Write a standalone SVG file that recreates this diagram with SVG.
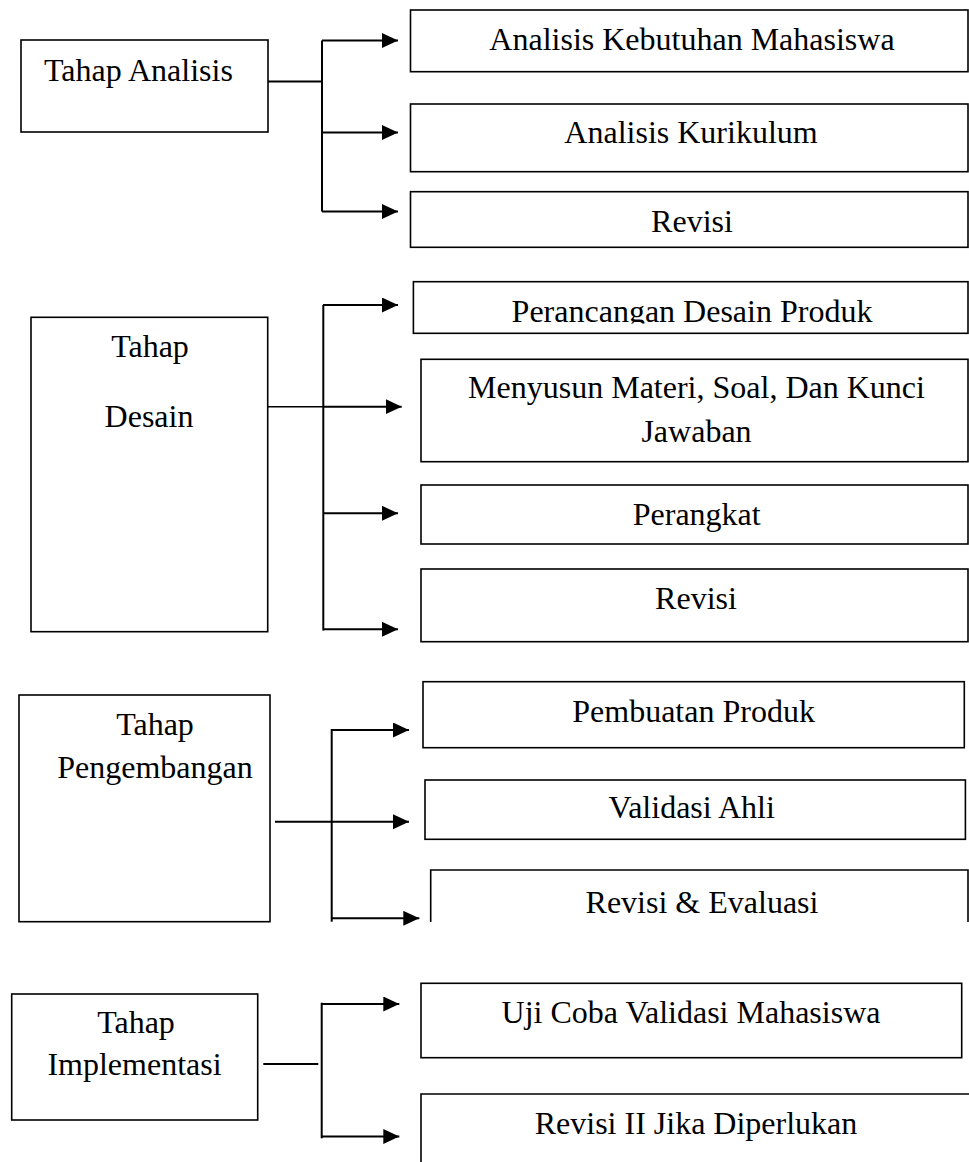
<svg xmlns="http://www.w3.org/2000/svg" width="969" height="1162" viewBox="0 0 969 1162">
<style>
.box{fill:#fff;stroke:#000;stroke-width:1.6}
.ln{fill:none;stroke:#000;stroke-width:2}
.t{font-family:"Liberation Serif","Times New Roman",serif;font-size:32px;fill:#000}
.c{text-anchor:middle}
</style>
<defs>
<marker id="ah" markerUnits="userSpaceOnUse" markerWidth="17" markerHeight="16" refX="16" refY="7.5" orient="auto">
<path d="M0,0 L16,7.5 L0,15 z" fill="#000"/>
</marker>
<clipPath id="clipP"><rect x="413" y="281" width="556" height="42.5"/></clipPath>
</defs>
<rect width="969" height="1162" fill="#fff"/>

<g id="connectors">
<line class="ln" x1="268" y1="81.5" x2="322" y2="81.5"/>
<line class="ln" x1="322" y1="40.5" x2="322" y2="211.5"/>
<line class="ln" x1="322" y1="40.5" x2="398" y2="40.5" marker-end="url(#ah)"/>
<line class="ln" x1="322" y1="132.5" x2="398" y2="132.5" marker-end="url(#ah)"/>
<line class="ln" x1="322" y1="211.5" x2="398" y2="211.5" marker-end="url(#ah)"/>

<line class="ln" x1="268" y1="406.7" x2="323" y2="406.7" style="stroke-width:1.4"/>
<line class="ln" x1="323.3" y1="305" x2="323.3" y2="630.5"/>
<line class="ln" x1="323" y1="305" x2="398" y2="305" marker-end="url(#ah)"/>
<line class="ln" x1="323" y1="406.7" x2="401.7" y2="406.7" marker-end="url(#ah)"/>
<line class="ln" x1="323" y1="513.3" x2="398" y2="513.3" marker-end="url(#ah)"/>
<line class="ln" x1="323" y1="629.3" x2="398" y2="629.3" marker-end="url(#ah)"/>

<line class="ln" x1="275" y1="821.7" x2="331.7" y2="821.7"/>
<line class="ln" x1="331.7" y1="729" x2="331.7" y2="921.7"/>
<line class="ln" x1="331.7" y1="730" x2="409" y2="730" marker-end="url(#ah)"/>
<line class="ln" x1="331.7" y1="821.7" x2="409" y2="821.7" marker-end="url(#ah)"/>
<line class="ln" x1="331.7" y1="918.3" x2="419.3" y2="918.3" marker-end="url(#ah)"/>

<line class="ln" x1="263.3" y1="1064" x2="318.3" y2="1064"/>
<line class="ln" x1="321.7" y1="1002.7" x2="321.7" y2="1138.3"/>
<line class="ln" x1="321.7" y1="1004" x2="399.3" y2="1004" marker-end="url(#ah)"/>
<line class="ln" x1="321.7" y1="1136.5" x2="399.3" y2="1136.5" marker-end="url(#ah)"/>
</g>

<g id="tahap-analisis">
<rect class="box" x="21" y="40" width="247" height="92"/>
<text class="t" x="44" y="80.5">Tahap Analisis</text>
</g>
<g id="analisis-kebutuhan">
<rect class="box" x="410.5" y="10" width="557.5" height="61.7"/>
<text class="t c" x="692" y="50">Analisis Kebutuhan Mahasiswa</text>
</g>
<g id="analisis-kurikulum">
<rect class="box" x="410.5" y="104" width="557.5" height="67.7"/>
<text class="t c" x="691" y="143.3">Analisis Kurikulum</text>
</g>
<g id="revisi-1">
<rect class="box" x="410.5" y="191.7" width="557.5" height="55.6"/>
<text class="t c" x="692" y="231.7">Revisi</text>
</g>

<g id="tahap-desain">
<rect class="box" x="31" y="317.3" width="236.7" height="314.4"/>
<text class="t c" x="150" y="357.3">Tahap</text>
<text class="t c" x="149" y="426.7">Desain</text>
</g>
<g id="perancangan">
<rect class="box" x="413.4" y="281.7" width="554.6" height="51.6"/>
<text class="t c" x="692" y="321.5" clip-path="url(#clipP)">Perancangan Desain Produk</text>
</g>
<g id="menyusun">
<rect class="box" x="421" y="359.3" width="547" height="102.4"/>
<text class="t c" x="696.5" y="398.3">Menyusun Materi, Soal, Dan Kunci</text>
<text class="t c" x="696.5" y="441.7">Jawaban</text>
</g>
<g id="perangkat">
<rect class="box" x="421" y="485" width="547" height="59"/>
<text class="t c" x="696.7" y="525">Perangkat</text>
</g>
<g id="revisi-2">
<rect class="box" x="421" y="569" width="547" height="72.7"/>
<text class="t c" x="696" y="609.3">Revisi</text>
</g>

<g id="tahap-pengembangan">
<rect class="box" x="19" y="695" width="251" height="226.7"/>
<text class="t c" x="155" y="735">Tahap</text>
<text class="t c" x="155" y="778.3">Pengembangan</text>
</g>
<g id="pembuatan">
<rect class="box" x="423" y="681.7" width="541.3" height="66"/>
<text class="t c" x="693.6" y="721.7">Pembuatan Produk</text>
</g>
<g id="validasi-ahli">
<rect class="box" x="425" y="780" width="540.4" height="59.3"/>
<text class="t c" x="691.7" y="818.3">Validasi Ahli</text>
</g>
<g id="revisi-evaluasi">
<path class="box" d="M430.7,922 V870 H968 V922" style="fill:none"/>
<text class="t c" x="702" y="913">Revisi &amp; Evaluasi</text>
</g>

<g id="tahap-implementasi">
<rect class="box" x="11.7" y="994" width="246" height="126"/>
<text class="t c" x="136" y="1033.3">Tahap</text>
<text class="t c" x="134.5" y="1075">Implementasi</text>
</g>
<g id="uji-coba">
<rect class="box" x="421" y="983.3" width="540.7" height="74.4"/>
<text class="t c" x="691" y="1023.3">Uji Coba Validasi Mahasiswa</text>
</g>
<g id="revisi-ii">
<path class="box" d="M421,1165 V1094 H975" style="fill:none"/>
<text class="t c" x="696" y="1133.5">Revisi II Jika Diperlukan</text>
</g>
</svg>
